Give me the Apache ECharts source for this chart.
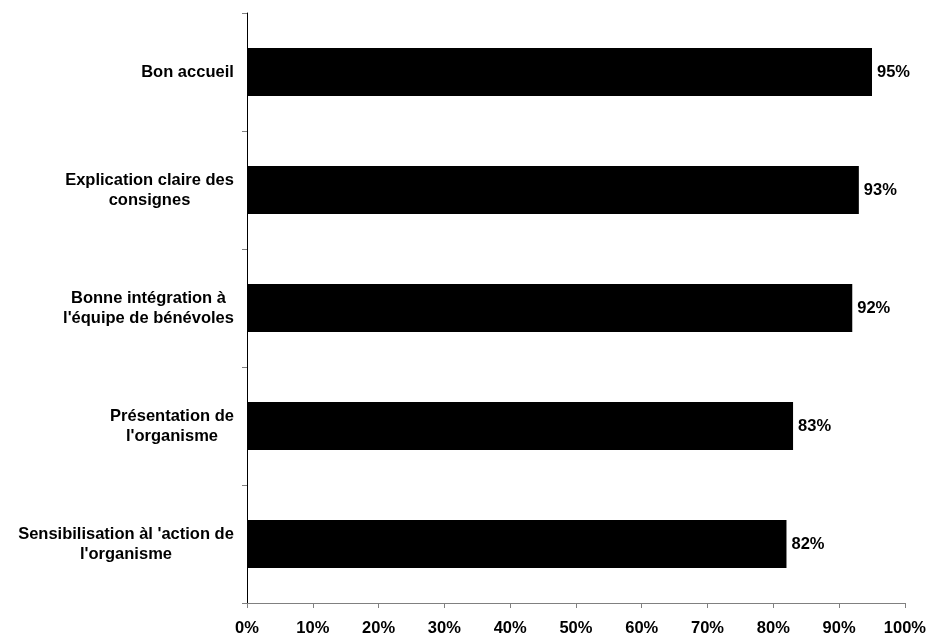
<!DOCTYPE html>
<html>
<head>
<meta charset="utf-8">
<script src="https://cdn.jsdelivr.net/npm/echarts@6/dist/echarts.min.js"></script>
<style>html,body{margin:0;padding:0;background:#fff}#c{width:929px;height:637px}</style>
</head>
<body>
<div id="c"></div>
<script>
const categories = [
  "Bon accueil",
  "Explication claire des\nconsignes",
  "Bonne intégration à\nl'équipe de bénévoles",
  "Présentation de\nl'organisme",
  "Sensibilisation àl 'action de\nl'organisme"
];
const values = [95, 93, 92, 83, 82];
const xTicks = [0, 10, 20, 30, 40, 50, 60, 70, 80, 90, 100];

const font = 'Liberation Sans, Arial, sans-serif';
const fs = 16.5;
const ctx = document.createElement('canvas').getContext('2d');
ctx.font = 'bold ' + fs + 'px ' + font;
const rich = {};
categories.forEach((c, i) => {
  const w = Math.max(...c.split('\n').map(l => ctx.measureText(l).width));
  rich['r' + i] = {width: Math.ceil(w), align: 'center', fontFamily: font, fontWeight: 'bold', fontSize: fs, lineHeight: 20, color: '#000'};
});

const chart = echarts.init(document.getElementById('c'), null, {renderer: 'canvas'});
chart.setOption({
  animation: false,
  backgroundColor: '#fff',
  grid: {left: 247, right: 23, top: 13, bottom: 34, containLabel: false},
  xAxis: {
    type: 'value', min: xTicks[0], max: xTicks[xTicks.length - 1], interval: 10,
    axisLine: {show: true, lineStyle: {color: '#808080', width: 1}},
    axisTick: {show: true, length: 5, inside: false, lineStyle: {color: '#808080'}},
    splitLine: {show: false},
    axisLabel: {formatter: '{value}%', color: '#000', fontFamily: font, fontWeight: 'bold', fontSize: fs, margin: 17}
  },
  yAxis: {
    type: 'category', data: categories, inverse: true,
    axisLine: {show: true, lineStyle: {color: '#000', width: 1}},
    axisTick: {show: true, length: 5, alignWithLabel: false, lineStyle: {color: '#808080'}},
    axisLabel: {color: '#000', fontFamily: font, fontWeight: 'bold', fontSize: fs, lineHeight: 20, align: 'right', margin: 13,
      formatter: (v, i) => v.split('\n').map(l => '{r' + i + '|' + l + '}').join('\n'),
      rich: rich},
    splitLine: {show: false}
  },
  series: [{
    type: 'bar', data: values, barWidth: 48,
    itemStyle: {color: '#000'},
    label: {show: true, position: 'right', distance: 5, formatter: '{c}%', color: '#000', fontFamily: font, fontWeight: 'bold', fontSize: fs}
  }]
});
</script>
</body>
</html>
